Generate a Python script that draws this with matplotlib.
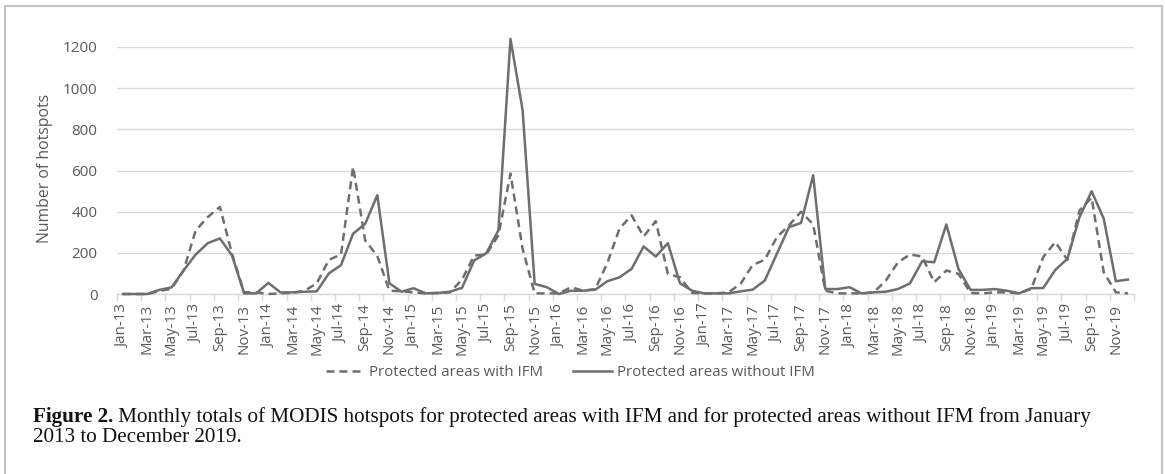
import matplotlib
matplotlib.use("Agg")
import matplotlib.pyplot as plt
import matplotlib.patches as mpatches
import numpy as np

months = ["Jan", "Feb", "Mar", "Apr", "May", "Jun", "Jul", "Aug", "Sep", "Oct", "Nov", "Dec"]
years = ["13", "14", "15", "16", "17", "18", "19"]
categories = [f"{m}-{y}" for y in years for m in months]

with_ifm = [0, 0, 0, 15, 25, 115, 309, 374, 423, 195, 8, 8,
            0, 3, 6, 16, 52, 166, 192, 618, 260, 185, 16, 13,
            8, 3, 5, 8, 70, 187, 192, 285, 585, 220, 3, 3,
            3, 33, 16, 24, 150, 317, 382, 280, 354, 98, 81, 5,
            3, 3, 8, 49, 141, 166, 276, 333, 400, 338, 16, 3,
            3, 3, 8, 65, 154, 192, 182, 57, 114, 98, 5, 3,
            8, 8, 3, 24, 179, 252, 166, 406, 468, 106, 8, 3]

without_ifm = [0, 0, 0, 20, 32, 114, 192, 247, 270, 187, 3, 3,
               54, 8, 8, 11, 13, 100, 140, 293, 341, 480, 52, 11,
               28, 3, 5, 11, 30, 163, 198, 309, 1239, 894, 49, 33,
               0, 16, 16, 21, 62, 81, 122, 231, 182, 247, 52, 16,
               3, 3, 3, 13, 21, 65, 195, 325, 345, 577, 24, 24,
               33, 3, 8, 11, 24, 52, 159, 154, 338, 122, 20, 20,
               24, 16, 3, 28, 29, 117, 171, 374, 499, 366, 62, 70]

yticks = [0, 200, 400, 600, 800, 1000, 1200]
series_labels = ["Protected areas with IFM", "Protected areas without IFM"]
caption_bold = "Figure 2."
caption_line1 = " Monthly totals of MODIS hotspots for protected areas with IFM and for protected areas without IFM from January"
caption_line2 = "2013 to December 2019."

W, H = 1165, 474
fig = plt.figure(figsize=(W / 100, H / 100), dpi=100)
fig.patch.set_facecolor("white")

# outer border
fig.patches.append(mpatches.Rectangle((5 / W, -0.05), (1162 - 5) / W, 1 - 6 / H + 0.05,
                                      transform=fig.transFigure, fill=False,
                                      edgecolor="#c4c4c4", linewidth=1.5))

left, right = 117 / W, 1134 / W
bottom, top = 1 - 294 / H, 1 - 47 / H
ax = fig.add_axes([left, bottom, right - left, top - bottom])

x = np.arange(len(categories))
line_col = "#6e6e6e"
ax.plot(x, with_ifm, color=line_col, lw=1.8, ls=(0, (3.2, 2.0)), clip_on=False,
        label=series_labels[0], zorder=3)
ax.plot(x, without_ifm, color=line_col, lw=1.8, ls="-", clip_on=False,
        label=series_labels[1], zorder=3)

ax.set_xlim(-0.5, len(categories) - 0.5)
ax.set_ylim(0, 1200)
ax.set_yticks(yticks)
ax.set_yticklabels([str(v) for v in yticks])
ax.grid(axis="y", color="#d9d9d9", lw=1.0)
ax.set_axisbelow(True)
for s in ["top", "right", "left"]:
    ax.spines[s].set_visible(False)
ax.spines["bottom"].set_color("#d9d9d9")
ax.spines["bottom"].set_linewidth(1.0)

ax.set_xticks(x[::2])
ax.set_xticklabels(categories[::2], rotation=90, fontsize=10.8, color="#595959",
                   family=["Open Sans", "DejaVu Sans"])
ax.set_xticks(np.arange(-0.5, len(categories), 2), minor=True)
ax.tick_params(axis="x", which="major", length=0, pad=7)
ax.tick_params(axis="x", which="minor", length=5, color="#d9d9d9", width=1)
ax.tick_params(axis="y", length=0, pad=14, labelsize=11, labelcolor="#595959")
for t in ax.get_yticklabels():
    t.set_family(["Open Sans", "DejaVu Sans"])

fig.text(45 / W, 1 - 168 / H, "Number of hotspots", rotation=90, ha="center", va="center",
         fontsize=11.3, color="#595959", family=["Open Sans", "DejaVu Sans"])

handles, labels = ax.get_legend_handles_labels()
leg = fig.legend(handles, labels, loc="center", bbox_to_anchor=(570 / W, 1 - 373 / H),
                 ncol=2, frameon=False, handlelength=2.6, handletextpad=0.3,
                 columnspacing=2.0, prop={"family": "Open Sans", "size": 10.8})
for t in leg.get_texts():
    t.set_color("#595959")

t1 = fig.text(33 / W, 1 - 417 / H, caption_bold, fontsize=15.2, fontweight="bold",
              family=["Liberation Serif", "DejaVu Serif"], va="center", ha="left", color="#111111")
fig.canvas.draw()
ax.annotate(caption_line1, xy=(1, 0), xycoords=t1, va="bottom", ha="left",
            fontsize=15.2, family=["Liberation Serif", "DejaVu Serif"], color="#111111",
            annotation_clip=False)
fig.text(33 / W, 1 - 438 / H, caption_line2, fontsize=15.2,
         family=["Liberation Serif", "DejaVu Serif"], va="center", ha="left", color="#111111")

fig.savefig("out.png", dpi=100)
